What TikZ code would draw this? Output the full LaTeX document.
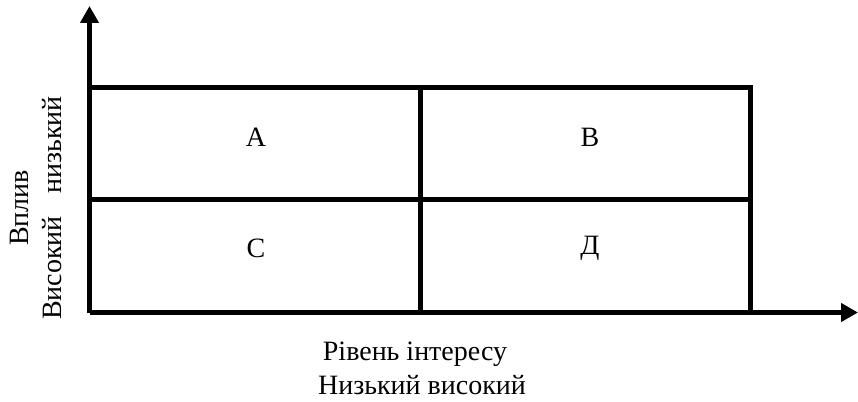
\documentclass[tikz,border=0pt]{standalone}
\usepackage{fontspec}
\setmainfont{Liberation Serif}
\usetikzlibrary{arrows.meta}
\begin{document}
\begin{tikzpicture}[x=1pt,y=-1pt,
  lbl/.style={inner sep=0pt,font=\fontsize{28}{32}\selectfont},
  grid/.style={line width=4.5pt},
  axis/.style={line width=4.5pt,-{Triangle[length=17pt,width=18pt]}}]
\useasboundingbox (0,0) rectangle (858,401);
\coordinate (O) at (89.5,312.5);
\coordinate (Ytip) at (89.5,6);
\coordinate (Xtip) at (858,312.5);
\coordinate (TL) at (89.5,87.5);
\coordinate (TR) at (750.5,87.5);
\coordinate (BR) at (750.5,312.5);
\coordinate (ML) at (89.5,199.5);
\coordinate (MR) at (750.5,199.5);
\coordinate (MT) at (420.5,87.5);
\coordinate (MB) at (420.5,312.5);
\draw[grid] (TL) -- (TR) -- (BR);
\draw[grid] (ML) -- (MR);
\draw[grid] (MT) -- (MB);
\draw[axis] (O) -- (Ytip);
\draw[axis] (O) -- (Xtip);
\node[lbl] (a) at (256,137) {А};
\node[lbl] (b) at (590,137) {В};
\node[lbl] (c) at (256,248) {С};
\node[lbl] (d) at (590,248) {Д};
\node[lbl,rotate=90] (vplyv) at (19,208) {Вплив};
\node[lbl,rotate=90] (vn) at (52,208) {Високий\hspace{0.8em}низький};
\node[lbl] (ri) at (415,354) {Рівень інтересу};
\node[lbl] (nv) at (422,385) {Низький високий};
\end{tikzpicture}
\end{document}
